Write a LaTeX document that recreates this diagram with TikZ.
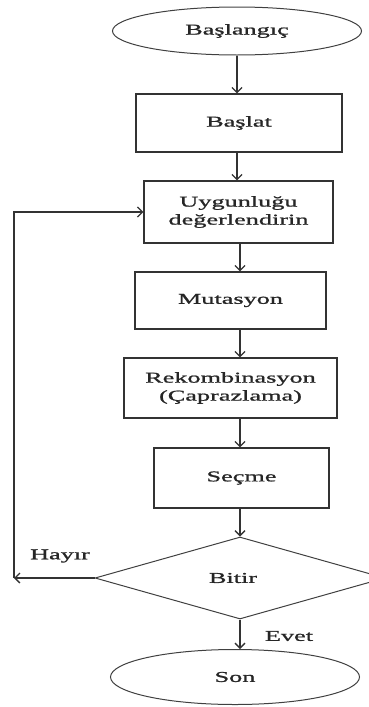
\documentclass[tikz,border=0pt]{standalone}
\usepackage{fontspec}
\setmainfont[FakeStretch=1.75,FakeBold=1.2]{Liberation Serif}
\usetikzlibrary{shapes.geometric,arrows.meta}

\begin{document}
\begin{tikzpicture}[
    x=1pt, y=-1pt,
    >={Straight Barb[length=5pt,width=10pt]},
    every node/.style={font=\fontsize{15}{18}\selectfont, text=black!85},
    box/.style={rectangle, draw=black!80, line width=1.3pt, align=center,
                inner sep=0pt},
    term/.style={ellipse, draw=black!75, line width=1pt, inner sep=0pt},
    cond/.style={diamond, draw=black!75, line width=1pt, inner sep=0pt,
                 minimum width=290pt, minimum height=82pt},
    arr/.style={->, line width=1.3pt, black!80},
]
  \clip (0,0) rectangle (369,707);

  % Start / end
  \node[term, minimum width=249pt, minimum height=48pt] (start) at (237, 31) {Başlangıç};
  \node[term, minimum width=249pt, minimum height=55pt] (son) at (235, 677) {Son};

  % Steps
  \node[box, minimum width=206pt, minimum height=58pt] (init) at (239, 123) {Başlat};
  \node[box, minimum width=189pt, minimum height=62pt] (uyg) at (238.5, 212) {Uygunluğu\\değerlendirin};
  \node[box, minimum width=191pt, minimum height=57pt] (mut) at (230.5, 300.5) {Mutasyon};
  \node[box, minimum width=213pt, minimum height=60pt] (rek) at (230.5, 388) {Rekombinasyon\\(Çaprazlama)};
  \node[box, minimum width=175pt, minimum height=60pt] (sec) at (241.5, 478) {Seçme};

  % Decision
  \node[cond] (dia) at (240, 578) {};
  \node (bitir) at (233, 578) {Bitir};

  % Flow arrows
  \draw[arr] (start.south) -- (start.south |- init.north);
  \draw[arr] (init.south -| start.south) -- (uyg.north -| start.south);
  \draw[arr] (uyg.south -| dia.north) -- (mut.north -| dia.north);
  \draw[arr] (mut.south -| dia.north) -- (rek.north -| dia.north);
  \draw[arr] (rek.south -| dia.north) -- (sec.north -| dia.north);
  \draw[arr] (sec.south -| dia.north) -- (dia.north);
  \draw[arr] (dia.south) -- (son.north -| dia.south);

  % Loop back
  \coordinate (back) at (14, 578);
  \draw[arr] (dia.west) -- (back);
  \draw[arr] (back) -- (back |- uyg.west) -- (uyg.west);

  % Labels
  \node (hayir) at (60, 556) {Hayır};
  \node (evet) at (289, 636) {Evet};

\end{tikzpicture}
\end{document}
